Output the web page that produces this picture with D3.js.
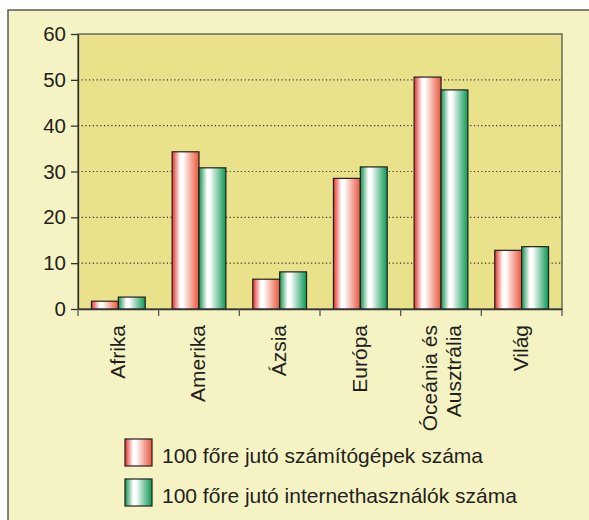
<!DOCTYPE html>
<html lang="hu">
<head>
    <meta charset="UTF-8">
    <title>Számítógépek és internethasználók</title>
    <script src="https://d3js.org/d3.v7.min.js"></script>
    <style>
        body {
            margin: 0;
            padding: 0;
            background-color: #fff;
            font-family: "Liberation Sans", Arial, sans-serif;
        }
        svg text {
            fill: #231f20;
        }
    </style>
</head>
<body>
    <svg width="589" height="520"></svg>
    <script>
        // Data
        const categories = ["Afrika", "Amerika", "Ázsia", "Európa", "Óceánia és\nAusztrália", "Világ"];
        const series = ["100 főre jutó számítógépek száma", "100 főre jutó internethasználók száma"];
        const computers = [1.7, 34.3, 6.5, 28.5, 50.6, 12.8];
        const internetUsers = [2.6, 30.8, 8.1, 31.0, 47.8, 13.6];
        const yTicks = [0, 10, 20, 30, 40, 50, 60];

        const svg = d3.select("svg");
        const plot = { left: 78, right: 562, top: 34, bottom: 309 };

        // Gradients for the bars
        const defs = svg.append("defs");
        const grads = [
            { id: "gRed", edge: "#e3302a", end: "#e9553b" },
            { id: "gGreen", edge: "#0f9350", end: "#0b9853" }
        ];
        grads.forEach(g => {
            const lg = defs.append("linearGradient").attr("id", g.id)
                .attr("x1", "0%").attr("x2", "100%").attr("y1", "0%").attr("y2", "0%");
            lg.append("stop").attr("offset", "0%").attr("stop-color", g.edge);
            lg.append("stop").attr("offset", "30%").attr("stop-color", "#ffffff");
            lg.append("stop").attr("offset", "40%").attr("stop-color", "#ffffff");
            lg.append("stop").attr("offset", "100%").attr("stop-color", g.end);
        });
        const fills = ["url(#gRed)", "url(#gGreen)"];

        // Outer frame
        svg.append("rect")
            .attr("x", 8).attr("y", 10)
            .attr("width", 600).attr("height", 530)
            .attr("fill", "#f5f3c3")
            .attr("stroke", "#5a5a5a")
            .attr("stroke-width", 1.5);

        // Scales
        const x = d3.scaleBand()
            .domain(categories)
            .range([plot.left, plot.right])
            .padding(0);

        const bw = x.bandwidth();
        const x1 = d3.scaleBand()
            .domain(series)
            .range([bw / 6, bw * 5 / 6])
            .padding(0);

        const y = d3.scaleLinear()
            .domain([0, 60])
            .range([plot.bottom, plot.top]);

        // Plot background
        svg.append("rect")
            .attr("x", plot.left).attr("y", plot.top)
            .attr("width", plot.right - plot.left)
            .attr("height", plot.bottom - plot.top)
            .attr("fill", "#e9e28a")
            .attr("stroke", "#555")
            .attr("stroke-width", 1.3);

        // Dotted grid lines
        svg.append("g")
            .selectAll("line")
            .data(yTicks.filter(t => t > 0 && t < 60))
            .join("line")
            .attr("x1", plot.left).attr("x2", plot.right)
            .attr("y1", d => y(d)).attr("y2", d => y(d))
            .attr("stroke", "#333")
            .attr("stroke-width", 1.2)
            .attr("stroke-dasharray", "1.2,2.5");

        // Bars
        const rows = categories.map((c, i) => ({ cat: c, values: [computers[i], internetUsers[i]] }));
        const groups = svg.append("g")
            .selectAll("g")
            .data(rows)
            .join("g")
            .attr("transform", d => `translate(${x(d.cat)},0)`);

        groups.selectAll("rect")
            .data(d => d.values.map((v, j) => ({ s: series[j], v, j })))
            .join("rect")
            .attr("x", d => x1(d.s))
            .attr("y", d => y(d.v))
            .attr("width", x1.bandwidth())
            .attr("height", d => y(0) - y(d.v))
            .attr("fill", d => fills[d.j])
            .attr("stroke", "#231f20")
            .attr("stroke-width", 1.2);

        // Y axis
        const yAxis = svg.append("g")
            .attr("transform", `translate(${plot.left},0)`)
            .call(d3.axisLeft(y).tickValues(yTicks).tickSize(7).tickSizeOuter(0).tickPadding(5));
        yAxis.select(".domain").attr("stroke", "#333").attr("stroke-width", 1.3);
        yAxis.selectAll(".tick line").attr("stroke", "#333").attr("stroke-width", 1.3);
        yAxis.selectAll("text")
            .attr("font-size", 20.5)
            .attr("font-family", "'Liberation Sans', Arial, sans-serif")
            .attr("fill", "#231f20");

        // X axis with ticks between categories
        const xAxis = svg.append("g")
            .attr("transform", `translate(0,${plot.bottom})`)
            .call(d3.axisBottom(x).tickSize(0).tickFormat(""));
        xAxis.select(".domain").attr("stroke", "#333").attr("stroke-width", 1.3);

        const bounds = categories.map(c => x(c)).concat([x.range()[1]]);
        xAxis.selectAll(".bound")
            .data(bounds)
            .join("line")
            .attr("class", "bound")
            .attr("x1", d => d).attr("x2", d => d)
            .attr("y1", 0).attr("y2", 7)
            .attr("stroke", "#555")
            .attr("stroke-width", 1.3);

        // Rotated category labels
        const labels = svg.append("g")
            .selectAll("text")
            .data(categories)
            .join("text")
            .attr("transform", d => `translate(${x(d) + bw / 2},${plot.bottom + 16}) rotate(-90)`)
            .attr("text-anchor", "end")
            .attr("font-size", 21);

        labels.each(function (d) {
            const lines = d.split("\n");
            const t = d3.select(this);
            lines.forEach((line, k) => {
                t.append("tspan")
                    .attr("x", 0)
                    .attr("dy", k === 0 ? (lines.length === 1 ? "0.3em" : "-0.2em") : "1.14em")
                    .text(line);
            });
        });

        // Legend
        const legend = svg.append("g")
            .selectAll("g")
            .data(series)
            .join("g")
            .attr("transform", (d, i) => `translate(125,${439 + i * 40})`);

        legend.append("rect")
            .attr("width", 27).attr("height", 27)
            .attr("fill", (d, i) => fills[i])
            .attr("stroke", "#231f20")
            .attr("stroke-width", 1.2);

        legend.append("text")
            .attr("x", 37).attr("y", 24)
            .attr("font-size", 21)
            .text(d => d);
    </script>
</body>
</html>
